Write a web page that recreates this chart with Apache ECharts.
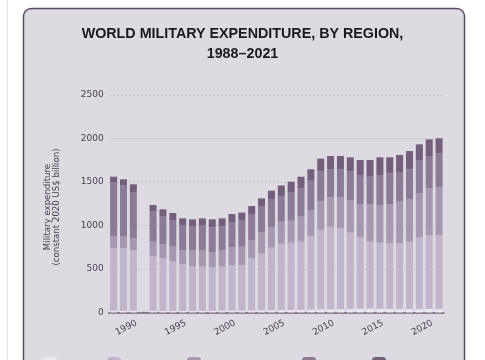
<!DOCTYPE html>
<html>
<head>
<meta charset="utf-8">
<script src="https://cdn.jsdelivr.net/npm/echarts@6/dist/echarts.min.js"></script>
<style>
html,body{margin:0;padding:0;background:#ffffff;}
#chart{width:485px;height:360px;}
</style>
</head>
<body>
<div id="chart"></div>
<script>
var years = ['1988','1989','1990','1991','1992','1993','1994','1995','1996','1997','1998','1999','2000','2001','2002','2003','2004','2005','2006','2007','2008','2009','2010','2011','2012','2013','2014','2015','2016','2017','2018','2019','2020','2021'];
var africa = [20,20,20,null,18,18,18,17,17,18,19,21,22,22,24,24,26,27,28,30,33,35,36,38,39,42,43,42,40,39,39,38,40,39];
var americas = [718,718,694,null,631,605,570,540,513,509,500,506,524,524,599,656,719,763,775,784,842,915,951,929,879,822,771,761,755,756,775,826,851,852];
var asiaOceania = [141,134,142,null,165,164,169,161,181,184,176,191,203,211,210,245,239,254,252,287,303,330,337,357,375,383,433,433,452,479,487,506,536,548];
var europe = [613,586,529,null,345,315,306,288,283,287,284,271,284,298,299,299,313,295,322,326,345,339,325,325,326,333,314,344,353,333,345,375,372,391];
var middleEast = [69,73,88,null,77,84,81,76,77,84,92,93,99,93,92,88,103,121,127,134,123,149,150,150,165,173,192,204,184,203,210,188,191,172];
var yTicks = [0,500,1000,1500,2000,2500];
var seriesNames = ['Africa','Americas','Asia and Oceania','Europe','Middle East'];
var seriesData = [africa, americas, asiaOceania, europe, middleEast];
var colors = ['#ece8ef','#c0b5ca','#a698b0','#8c7b96','#735f7b'];

var chart = echarts.init(document.getElementById('chart'), null, {renderer:'canvas'});
var font = 'DejaVu Sans';
var showFive = function (idx, val) { return (+val) % 5 === 0; };

var legendLefts = [43,107,187,302,372];
var legends = seriesNames.map(function (n, i) {
  return {
    data: [n], left: legendLefts[i], top: 357, itemWidth: 14, itemHeight: 18,
    itemGap: 4, padding: 0, textStyle: {fontFamily: font, fontSize: 9, color: '#4b4050', lineHeight: 10},
    selectedMode: false
  };
});

var option = {
  animation: false,
  color: colors,
  title: {
    text: 'WORLD MILITARY EXPENDITURE, BY REGION,\n1988\u20132021',
    left: 'center', top: 19,
    textStyle: {fontFamily: 'Liberation Sans', fontWeight: 'bold', fontSize: 14.3, lineHeight: 20, color: '#1c1a1e'}
  },
  legend: legends,
  graphic: [
    {type: 'rect', z: -10, silent: true, shape: {x: 23.5, y: 8.5, width: 441, height: 420, r: 8},
     style: {fill: '#dddae2', stroke: '#5b4a62', lineWidth: 1.5}},
    {type: 'line', z: -10, silent: true, shape: {x1: 7.5, y1: 0, x2: 7.5, y2: 360},
     style: {stroke: '#e4e4e4', lineWidth: 1}},
    {type: 'text', z: 10, silent: true, x: 52.5, y: 207, rotation: Math.PI / 2,
     style: {text: 'Military expenditure\n(constant 2020 US$ billion)', fontFamily: font, fontSize: 8.6,
       lineHeight: 9, fill: '#4b4050', textAlign: 'center', textVerticalAlign: 'middle'}}
  ],
  grid: {left: 108.7, right: 41, top: 95, bottom: 47.5, containLabel: false},
  xAxis: {
    type: 'category', data: years,
    axisLine: {lineStyle: {color: '#6d5f73', width: 1.5}},
    axisTick: {interval: showFive, alignWithLabel: true, length: 4, lineStyle: {color: '#6d5f73', width: 1.2}},
    axisLabel: {interval: showFive, rotate: 28, margin: 11.5, align: 'center', verticalAlign: 'middle',
      fontFamily: font, fontSize: 9, color: '#4b4050',
      formatter: function (v) { return '{v|' + v + '}{p| }'; },
      rich: {v: {fontFamily: font, fontSize: 9, color: '#4b4050'}, p: {width: 16, fontSize: 9}}},
    splitLine: {show: false}
  },
  yAxis: {
    type: 'value', min: yTicks[0], max: yTicks[yTicks.length - 1], interval: 500,
    axisLine: {show: false}, axisTick: {show: false},
    axisLabel: {margin: 5, fontFamily: font, fontSize: 9, color: '#4b4050',
      formatter: function (v) { return yTicks.indexOf(v) >= 0 ? String(v) : ''; }},
    splitLine: {lineStyle: {color: '#c6c0cc', type: [2, 2], width: 1}}
  },
  series: seriesNames.map(function (n, i) {
    return {
      name: n, type: 'bar', stack: 'total', data: seriesData[i],
      barWidth: 7, itemStyle: {color: colors[i]}, emphasis: {disabled: true}
    };
  })
};
chart.setOption(option);
</script>
</body>
</html>
